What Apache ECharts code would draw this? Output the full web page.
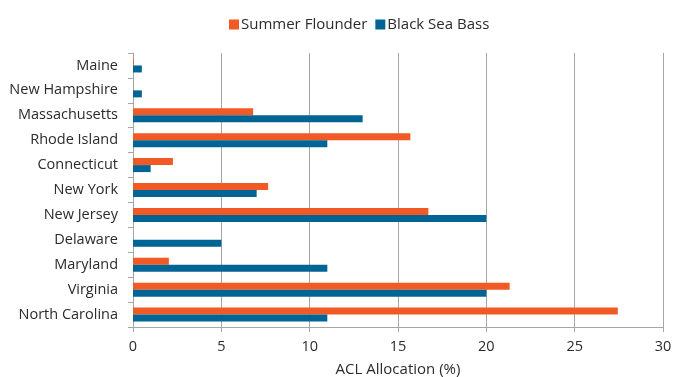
<!DOCTYPE html>
<html>
<head>
<meta charset="utf-8">
<script src="https://cdn.jsdelivr.net/npm/echarts@6/dist/echarts.min.js"></script>
<style>
html,body{margin:0;padding:0;background:#fff;}
#chart{width:675px;height:377px;}
</style>
</head>
<body>
<div id="chart"></div>
<script>
// States from north to south
const states = ['Maine', 'New Hampshire', 'Massachusetts', 'Rhode Island', 'Connecticut',
  'New York', 'New Jersey', 'Delaware', 'Maryland', 'Virginia', 'North Carolina'];
// ACL allocation shares (%)
const summerFlounder = [0.04, 0, 6.8, 15.7, 2.26, 7.65, 16.72, 0, 2.03, 21.32, 27.44];
const blackSeaBass = [0.5, 0.5, 13.0, 11.0, 1.0, 7.0, 20.0, 5.0, 11.0, 20.0, 11.0];
const xTicks = [0, 5, 10, 15, 20, 25, 30];

const chart = echarts.init(document.getElementById('chart'));
const font = '"Open Sans", sans-serif';
const textColor = '#2b2b2b';
chart.setOption({
  animation: false,
  textStyle: { fontFamily: font },
  legend: {
    top: 12, left: 224,
    itemWidth: 10, itemHeight: 10, itemGap: 8,
    icon: 'rect',
    textStyle: { fontSize: 15, color: textColor, fontFamily: font, padding: [0, 0, 0, -3] },
    data: ['Summer Flounder', 'Black Sea Bass']
  },
  grid: { left: 133, right: 12, top: 53, bottom: 50, containLabel: false, outerBoundsMode: 'none' },
  xAxis: {
    type: 'value', min: xTicks[0], max: xTicks[xTicks.length - 1], interval: 5,
    name: 'ACL Allocation (%)', nameLocation: 'middle', nameGap: 35,
    nameTextStyle: { fontSize: 15, color: textColor, fontFamily: font },
    axisLine: { show: true, lineStyle: { color: '#a6a6a6' } },
    axisTick: { show: true, length: 5, lineStyle: { color: '#a6a6a6' } },
    axisLabel: { fontSize: 14.5, color: textColor, margin: 12, fontFamily: font },
    splitLine: { show: true, lineStyle: { color: '#a6a6a6' } }
  },
  yAxis: {
    type: 'category', data: states, inverse: true,
    axisLine: { show: true, lineStyle: { color: '#a6a6a6' } },
    axisTick: { show: true, length: 5, lineStyle: { color: '#a6a6a6' } },
    axisLabel: { fontSize: 14.5, color: textColor, margin: 15, fontFamily: font }
  },
  series: [
    {
      name: 'Summer Flounder', type: 'bar', data: summerFlounder,
      barWidth: 7, barGap: '0%',
      itemStyle: { color: '#f15a24' }
    },
    {
      name: 'Black Sea Bass', type: 'bar', data: blackSeaBass,
      barWidth: 7, barGap: '0%',
      itemStyle: { color: '#006595' }
    }
  ]
});
</script>
</body>
</html>
